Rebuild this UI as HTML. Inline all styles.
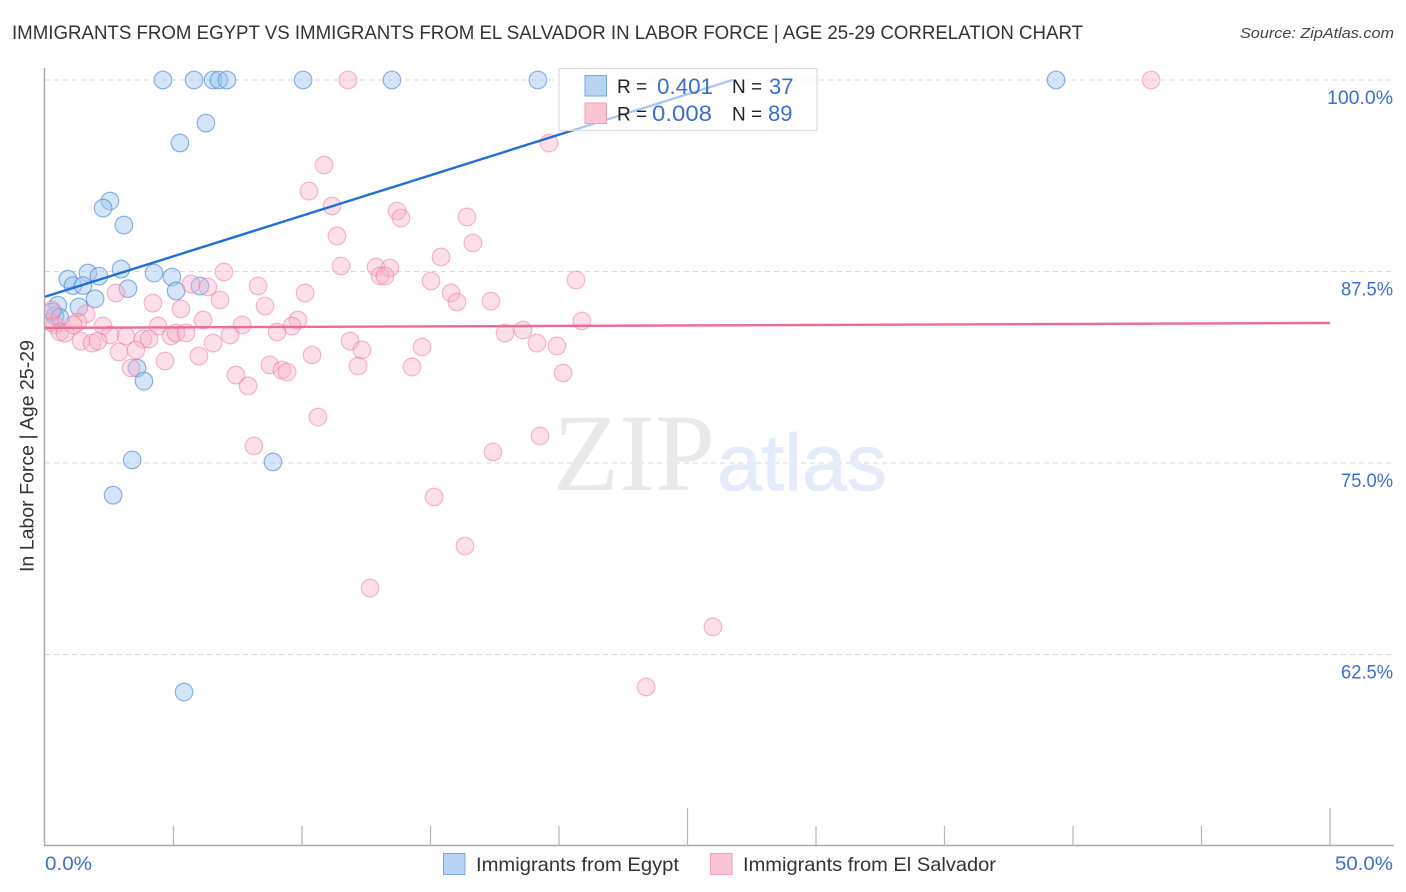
<!DOCTYPE html>
<html lang="en">
<head>
<meta charset="utf-8">
<title>Immigrants from Egypt vs Immigrants from El Salvador in Labor Force</title>
<style>
html,body{margin:0;padding:0;background:#fff;width:1406px;height:892px;overflow:hidden}
svg{display:block}
text{font-family:"Liberation Sans",Arial,sans-serif}
</style>
</head>
<body>
<svg id="chart" xmlns="http://www.w3.org/2000/svg" width="1406" height="892" viewBox="0 0 1406 892">
  <defs>
    <clipPath id="plot-clip"><rect x="45" y="60" width="1349" height="786"/></clipPath>
  </defs>
  <rect x="0" y="0" width="1406" height="892" fill="#ffffff"/>
  <text x="12" y="39" font-size="19.5" fill="#333333" textLength="1071" lengthAdjust="spacingAndGlyphs">IMMIGRANTS FROM EGYPT VS IMMIGRANTS FROM EL SALVADOR IN LABOR FORCE | AGE 25-29 CORRELATION CHART</text>
  <text x="1394" y="38" font-size="15" font-style="italic" fill="#444444" text-anchor="end" textLength="154" lengthAdjust="spacingAndGlyphs">Source: ZipAtlas.com</text>
  <g id="grid"></g>
  <g>
    <text x="553" y="490" style="font-family:'Liberation Serif',serif" font-size="110" fill="#e9e9e9" textLength="162" lengthAdjust="spacingAndGlyphs">ZIP</text>
    <text x="717" y="490" font-size="80" fill="#e3ecf8" stroke="#e3ecf8" stroke-width="0.8" textLength="170" lengthAdjust="spacingAndGlyphs">atlas</text>
  </g>
  <g id="axes"></g>
  <g id="blue-dots" clip-path="url(#plot-clip)"></g>
  <g id="pink-dots" clip-path="url(#plot-clip)"></g>
  <g id="trends"></g>
  <g>
    <rect x="559" y="68.500" width="258" height="62" fill="#ffffff" fill-opacity="0.62" stroke="#dddddd" stroke-width="1.2"/>
    <rect x="585" y="75.500" width="21.500" height="20.500" fill="#b9d3f5" stroke="#7ea6dc" stroke-width="1"/>
    <rect x="585" y="103" width="21.500" height="20.500" fill="#fbc5d6" stroke="#f0a0ba" stroke-width="1"/>
    <text x="617" y="93" font-size="19" fill="#222222">R =</text>
    <text x="657" y="94" font-size="22" fill="#3a6fd0" textLength="56" lengthAdjust="spacingAndGlyphs">0.401</text>
    <text x="732" y="93" font-size="19" fill="#222222">N =</text>
    <text x="769" y="94" font-size="22" fill="#3a6fd0">37</text>
    <text x="617" y="120.500" font-size="19" fill="#222222">R =</text>
    <text x="652" y="121" font-size="22" fill="#3a6fd0" textLength="60" lengthAdjust="spacingAndGlyphs">0.008</text>
    <text x="732" y="120.500" font-size="19" fill="#222222">N =</text>
    <text x="768" y="121" font-size="22" fill="#3a6fd0">89</text>
  </g>
  <text transform="translate(33.500 572) rotate(-90)" font-size="19" fill="#333333" textLength="232" lengthAdjust="spacingAndGlyphs">In Labor Force | Age 25-29</text>
  <g>
    <rect x="443.500" y="853.500" width="21.500" height="21" fill="#b9d3f5" stroke="#7ea6dc" stroke-width="1"/>
    <text x="476" y="871" font-size="19.500" fill="#333333" textLength="203" lengthAdjust="spacingAndGlyphs">Immigrants from Egypt</text>
    <rect x="710.500" y="853.500" width="21.500" height="21" fill="#fbc5d6" stroke="#f0a0ba" stroke-width="1"/>
    <text x="743" y="871" font-size="19.500" fill="#333333" textLength="253" lengthAdjust="spacingAndGlyphs">Immigrants from El Salvador</text>
  </g>
</svg>
<script>
const egyptX = [4.59,5.80,6.54,6.77,7.08,10.04,13.50,19.18,39.34,6.26,5.25,2.53,2.26,3.07,2.96,4.24,1.67,0.89,2.10,1.09,1.48,3.23,4.94,5.10,6.03,1.95,1.32,0.50,0.39,0.27,0.58,3.58,3.85,3.39,8.87,2.65,5.41];
const egyptY = [100,100,100,100,100,100,100,100,100,97.19,95.89,92.10,91.64,90.53,87.66,87.40,87.40,87.00,87.20,86.58,86.58,86.38,87.14,86.23,86.55,85.72,85.18,85.30,84.60,84.86,84.50,81.20,80.35,75.20,75.07,72.90,60.05];
const salvadorX = [11.79,43.04,19.61,10.86,10.27,11.17,13.70,13.85,16.42,11.36,16.65,15.41,11.52,12.88,13.42,6.96,13.04,13.23,15.02,20.66,5.68,6.34,8.29,2.76,10.12,15.80,6.81,4.20,8.56,16.03,17.35,5.29,1.60,6.15,20.89,9.84,1.28,2.26,4.40,7.67,9.61,0.39,0.19,0.58,0.78,1.09,0.27,18.60,17.90,3.15,3.81,4.05,4.90,5.10,5.49,7.20,9.03,2.53,1.40,1.83,2.06,11.87,19.14,19.92,14.67,6.54,12.33,2.88,3.54,10.39,5.99,4.67,8.75,9.22,9.42,12.18,14.28,3.35,20.16,7.43,7.90,10.62,19.26,8.13,17.43,15.14,16.34,12.65,25.99,23.39];
const salvadorY = [100,100,95.89,94.45,92.75,91.78,91.45,90.99,91.06,89.82,89.36,88.45,87.86,87.79,87.73,87.47,87.21,87.21,86.88,86.95,86.68,86.49,86.55,86.10,86.10,86.10,85.64,85.44,85.25,85.51,85.57,85.05,84.73,84.33,84.27,84.33,84.20,83.94,83.94,84.01,83.94,84.01,84.20,83.55,83.48,84.01,84.99,83.68,83.48,83.29,83.09,83.09,83.29,83.49,83.49,83.36,83.55,83.36,82.96,82.83,82.96,82.96,82.83,82.64,82.57,82.83,82.38,82.25,82.38,82.05,81.98,81.66,81.40,81.07,80.94,81.33,81.27,81.20,80.87,80.74,80.03,78.00,76.76,76.11,75.72,72.78,69.58,66.84,64.30,60.38];
const egyptTrendX = [0, 26.75];
const egyptTrendY = [85.85, 100];
const salvadorTrendX = [0, 50];
const salvadorTrendY = [83.82, 84.14];
const yTicks = [100, 87.5, 75, 62.5];
const yTickLabels = ['100.0%', '87.5%', '75.0%', '62.5%'];
const xTicks = [0, 5, 10, 15, 20, 25, 30, 35, 40, 45, 50];
const xEndLabels = ['0.0%', '50.0%'];

const NS = 'http://www.w3.org/2000/svg';
const xScale = v => 45 + v * 25.7;
const yScale = v => 80 + (100 - v) * 15.32;

function make(tag, parent, attrs) {
  const el = document.createElementNS(NS, tag);
  for (const k in attrs) el.setAttribute(k, attrs[k]);
  parent.appendChild(el);
  return el;
}

const grid = document.getElementById('grid');
yTicks.forEach((t, i) => {
  const g = make('line', grid, {x1: 45, x2: 1394, y1: yScale(t), y2: yScale(t), stroke: '#d9d9d9', 'stroke-width': 1, 'stroke-dasharray': '5 4'});
  
  
  const lab = make('text', grid, {x: 1393, y: yScale(t) + 24, 'font-size': 19.5, fill: '#3a6fd0', 'text-anchor': 'end', textLength: yTickLabels[i].length === 6 ? 66 : 52, lengthAdjust: 'spacingAndGlyphs'});
  
  
  lab.textContent = yTickLabels[i];
});

const axes = document.getElementById('axes');
const yAxis = make('line', axes, {x1: 44.5, x2: 44.5, y1: 68, y2: 846, stroke: '#aaaaaa', 'stroke-width': 1.5});


const xAxis = make('line', axes, {x1: 44, x2: 1394, y1: 845.5, y2: 845.5, stroke: '#aaaaaa', 'stroke-width': 1.5});


xTicks.forEach((t, i) => {
  if (i === 0) return;
  const major = i === 5 || i === 10;
  const tick = make('line', axes, {x1: xScale(t), x2: xScale(t), y1: major ? 808 : 826, y2: 846, stroke: '#b5b5b5', 'stroke-width': 1.2});
  
  
});
const x0Label = make('text', axes, {x: 45, y: 870, 'font-size': 19.5, fill: '#3a6fd0', textLength: 47, lengthAdjust: 'spacingAndGlyphs'});


x0Label.textContent = xEndLabels[0];
const x1Label = make('text', axes, {x: 1393, y: 870, 'font-size': 19.5, fill: '#3a6fd0', 'text-anchor': 'end', textLength: 58, lengthAdjust: 'spacingAndGlyphs'});


x1Label.textContent = xEndLabels[1];

const blueDots = document.getElementById('blue-dots');
egyptX.forEach((x, i) => {
  const c = make('circle', blueDots, {cx: xScale(x), cy: yScale(egyptY[i]), r: 8.8, fill: 'rgba(160,198,240,0.45)', stroke: 'rgba(70,130,215,0.6)', 'stroke-width': 1.2});
  
  
});
const pinkDots = document.getElementById('pink-dots');
salvadorX.forEach((x, i) => {
  const c = make('circle', pinkDots, {cx: xScale(x), cy: yScale(salvadorY[i]), r: 8.8, fill: 'rgba(248,175,198,0.4)', stroke: 'rgba(236,120,160,0.5)', 'stroke-width': 1.2});
  
  
});

const trends = document.getElementById('trends');
const blueTrend = make('line', trends, {x1: xScale(egyptTrendX[0]), y1: yScale(egyptTrendY[0]), x2: xScale(egyptTrendX[1]), y2: yScale(egyptTrendY[1]), stroke: '#1f6fd6', 'stroke-width': 2.4});


const pinkTrend = make('line', trends, {x1: xScale(salvadorTrendX[0]), y1: yScale(salvadorTrendY[0]), x2: xScale(salvadorTrendX[1]), y2: yScale(salvadorTrendY[1]), stroke: '#ee6b97', 'stroke-width': 2.4});


</script>
</body>
</html>
